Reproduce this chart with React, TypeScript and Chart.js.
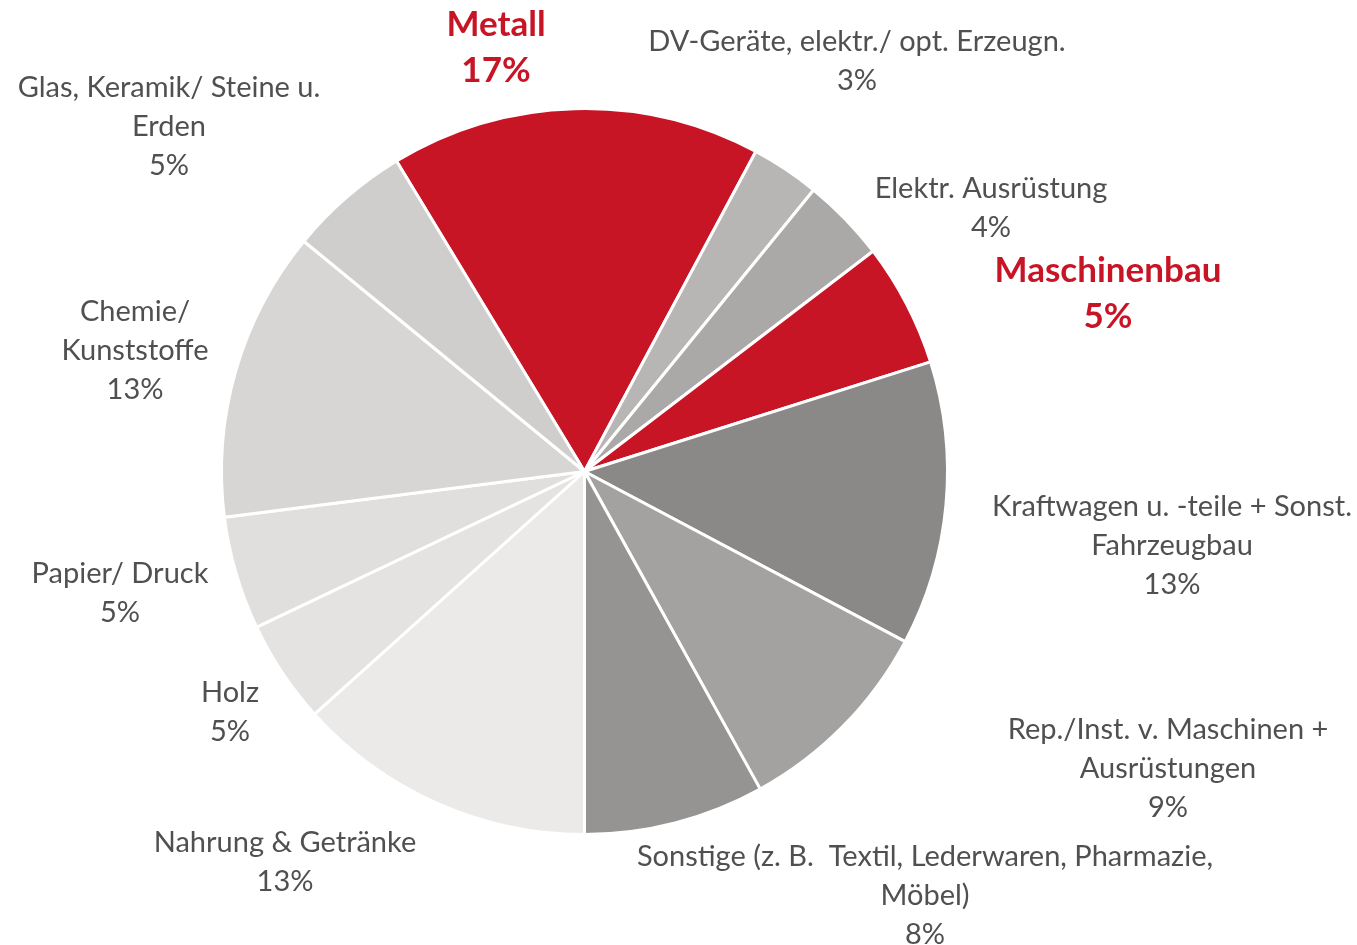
import React, { useEffect, useRef } from "react";
import { Chart, registerables } from "chart.js";

Chart.register(...registerables);

const categories: string[][] = [
  ["Metall"],
  ["DV-Geräte, elektr./ opt. Erzeugn."],
  ["Elektr. Ausrüstung"],
  ["Maschinenbau"],
  ["Kraftwagen u. -teile + Sonst.", "Fahrzeugbau"],
  ["Rep./Inst. v. Maschinen +", "Ausrüstungen"],
  ["Sonstige (z. B.  Textil, Lederwaren, Pharmazie,", "Möbel)"],
  ["Nahrung & Getränke"],
  ["Holz"],
  ["Papier/ Druck"],
  ["Chemie/", "Kunststoffe"],
  ["Glas, Keramik/ Steine u.", "Erden"],
];
const shares: number[] = [16.5, 3.05, 3.75, 5.5, 12.65, 9.2, 8.05, 13.35, 4.6, 5.05, 12.95, 5.4];
const shareLabels: string[] = ["17%", "3%", "4%", "5%", "13%", "9%", "8%", "13%", "5%", "5%", "13%", "5%"];
const highlighted: boolean[] = [true, false, false, true, false, false, false, false, false, false, false, false];

const sliceColors = [
  "#C71526", "#B7B6B5", "#AAA9A8", "#C71526", "#8A8988", "#A3A2A1",
  "#959493", "#EBEAE9", "#E4E3E2", "#E0DFDE", "#D7D6D5", "#CFCECD",
];
// label anchor (center x, first line center y) in page pixels
const labelPos: [number, number][] = [
  [496, 25], [857, 42], [991, 189], [1108, 271], [1172, 507], [1168, 730],
  [925, 857], [285, 843], [230, 693], [120, 574], [135, 312], [169, 88],
];

const labelPlugin = {
  id: "outerLabels",
  afterDraw(chart: any) {
    const ctx = chart.ctx;
    ctx.save();
    ctx.textAlign = "center";
    ctx.textBaseline = "middle";
    categories.forEach((lines, i) => {
      const [x, y0] = labelPos[i];
      const hl = highlighted[i];
      const lh = hl ? 46 : 39;
      ctx.font = hl ? "bold 35px Lato" : "29px Lato";
      ctx.fillStyle = hl ? "#C71526" : "#505050";
      const all = [...lines, shareLabels[i]];
      all.forEach((t, j) => ctx.fillText(t, x, y0 + j * lh));
    });
    ctx.restore();
  },
};

export default function App() {
  const ref = useRef<HTMLCanvasElement>(null);
  useEffect(() => {
    if (!ref.current) return;
    const chart = new Chart(ref.current, {
      type: "pie",
      data: {
        labels: categories.map((c) => c.join(" ")),
        datasets: [
          {
            data: shares,
            backgroundColor: sliceColors,
            borderColor: "#FFFFFF",
            borderWidth: 3,
          },
        ],
      },
      options: {
        animation: false,
        responsive: false,
        rotation: -31.2,
        layout: { padding: { left: 220, right: 408, top: 107, bottom: 109 } },
        plugins: { legend: { display: false }, tooltip: { enabled: false } },
      },
      plugins: [labelPlugin],
    });
    return () => chart.destroy();
  }, []);
  return (
    <div style={{ position: "fixed", left: 0, top: 0, width: 1357, height: 945, background: "#fff" }}>
      <canvas ref={ref} width={1357} height={945} style={{ width: 1357, height: 945 }} />
    </div>
  );
}
